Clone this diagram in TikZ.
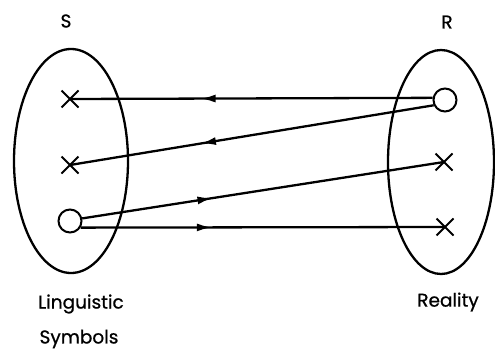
\documentclass[tikz,border=0pt]{standalone}
\usepackage{fontspec}
\setmainfont{Poppins}
\newfontfamily\lblfont{Poppins}[FakeBold=0.8]
\usetikzlibrary{arrows.meta, shapes.misc, decorations.markings}

\begin{document}
\begin{tikzpicture}[x=1pt, y=-1pt, line width=2.3pt,
    every node/.style={font=\lblfont\fontsize{18.5}{20}\selectfont},
    elem/.style={draw, circle, minimum size=23pt, inner sep=0pt, line width=2pt},
    xelem/.style={draw, cross out, minimum size=15pt, inner sep=0pt, line width=2pt},
    midarrow/.style={postaction={decorate}, decoration={markings,
        mark=at position #1 with {\arrow{Latex[length=15pt, width=8pt]}}}}]
    \useasboundingbox (0,0) rectangle (495,353);
    % the two sets
    \draw (71,161) ellipse (57 and 112);
    \draw (441,162) ellipse (53 and 112);
    \node (S) at (66,21) {S};
    \node (R) at (447,22) {R};
    \node (ling) at (81,304) {Linguistic};
    \node (sym) at (79,339) {Symbols};
    \node (real) at (448,302) {Reality};
    % elements of S
    \node[xelem] (s1) at (70,99) {};
    \node[xelem] (s2) at (70,165) {};
    \node[elem] (s3) at (70,221) {};
    % elements of R
    \node[elem] (r1) at (445,100) {};
    \node[xelem] (r2) at (444,162) {};
    \node[xelem] (r3) at (445,227) {};
    % mappings
    \draw[midarrow=0.64] (r1.170) -- (s1.center);
    \draw[midarrow=0.64] (r1.205) -- (s2.center);
    \draw[midarrow=0.36] (s3.12) -- (r2.center);
    \draw[midarrow=0.36] (s3.-32) -- (r3.center);
\end{tikzpicture}
\end{document}
